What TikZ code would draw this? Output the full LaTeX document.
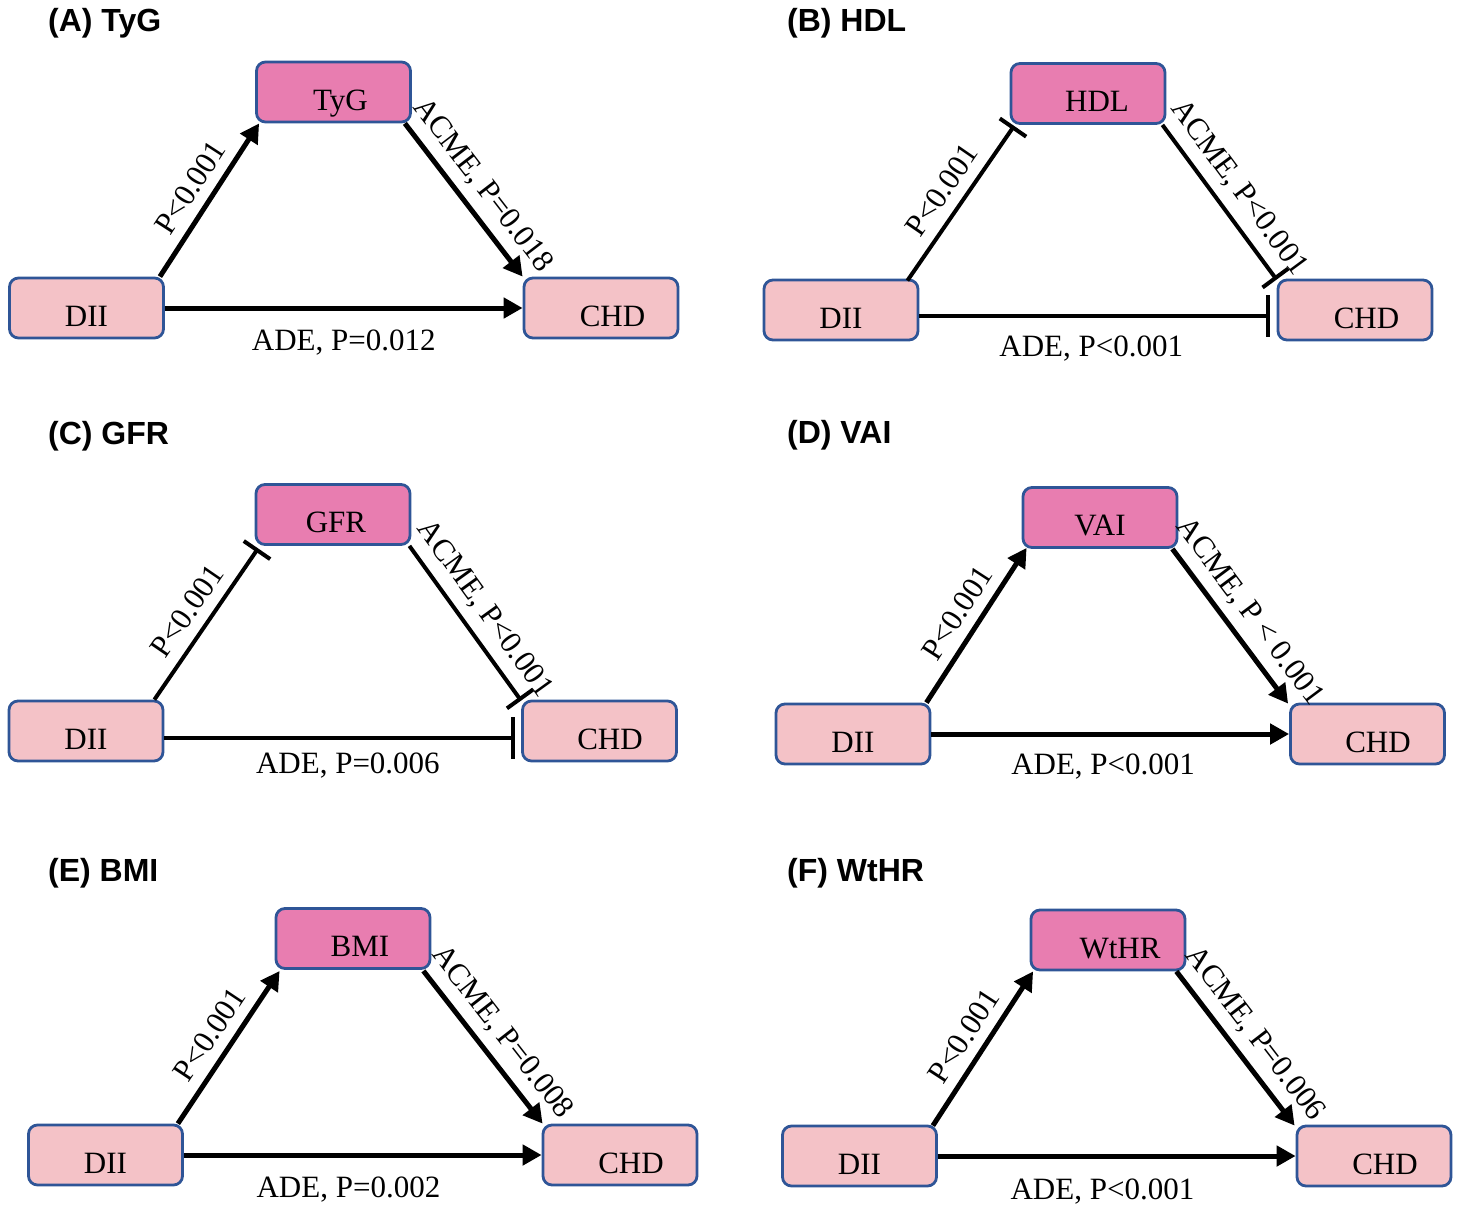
\documentclass[tikz,border=0pt]{standalone}
\usepackage{fontspec}
\setmainfont{Liberation Serif}
\newfontfamily\titlefam{Liberation Sans}
\usetikzlibrary{arrows.meta,calc}
\definecolor{medpink}{HTML}{E87DB0}
\definecolor{lightpink}{HTML}{F4C2C7}
\definecolor{boxblue}{HTML}{2F5597}
\newcommand\labfont{\fontsize{31pt}{36pt}\selectfont}
\newcommand\ttlfont{\titlefam\bfseries\fontsize{32pt}{36pt}\selectfont}
\begin{document}
\begin{tikzpicture}[x=1pt,y=-1pt,
  medbox/.style={draw=boxblue, line width=2.8pt, fill=medpink, rounded corners=9pt,
    minimum width=154pt, minimum height=60pt, inner sep=0pt,
    text height=36pt, text depth=0pt, font=\labfont},
  endbox/.style={medbox, fill=lightpink},
  ttl/.style={font=\ttlfont, anchor=base west, inner sep=0pt},
  act/.style={line width=5pt, -{Triangle[length=19pt,width=20pt]}},
  inhd/.style={line width=4pt, -{Bar[width=32pt]}},
  inhh/.style={line width=4pt, -{Bar[width=42pt]}},
  slab/.style={font=\labfont, inner sep=0pt, text depth=0pt, sloped, above, outer ysep=13pt},
  alab/.style={slab, outer ysep=16pt},
  hlab/.style={font=\labfont, inner sep=0pt, anchor=base}
]
\useasboundingbox (0,0) rectangle (1459,1211);
\fill[white] (0,0) rectangle (1459,1211);

% ---------------- (A) TyG
\node[ttl] (tA) at (48,31) {(A) TyG};
\node[medbox] (mA) at (333.5,92) {\hspace{14pt}TyG};
\node[endbox] (dA) at (86.5,308) {DII};
\node[endbox] (cA) at (601,308) {\hspace{23pt}CHD};
\draw[act] ($(dA.north east)+(-5,0)$) -- node[slab]{P<0.001} ($(mA.south west)+(4,0)$);
\draw[act] ($(mA.south east)+(-7,0)$) -- node[alab]{ACME, P=0.018} (cA.north west);
\draw[act] (dA.east) -- node[hlab, pos=0.5, yshift=-42pt]{ADE, P=0.012} (cA.west);

% ---------------- (B) HDL
\node[ttl] (tB) at (787,31) {(B) HDL};
\node[medbox] (mB) at (1088,93.5) {\hspace{18pt}HDL};
\node[endbox] (dB) at (841,310) {DII};
\node[endbox] (cB) at (1355,310) {\hspace{23pt}CHD};
\draw[inhd] ($(dB.north east)+(-12,2)$) -- node[slab]{P<0.001} ($(mB.south west)+(4.5,1)$);
\draw[inhd] ($(mB.south east)+(-4,0)$) -- node[alab]{ACME, P<0.001} ($(cB.north west)+(0,1)$);
\draw[inhh] ($(dB.east)+(0,6)$) -- node[hlab, pos=0.49, yshift=-40pt]{ADE, P<0.001} ($(cB.west)+(-6.5,6)$);

% ---------------- (C) GFR
\node[ttl] (tC) at (48,444) {(C) GFR};
\node[medbox] (mC) at (333,514.5) {\hspace{6pt}GFR};
\node[endbox] (dC) at (86,731) {DII};
\node[endbox] (cC) at (599.5,731) {\hspace{21pt}CHD};
\draw[inhd] ($(dC.north east)+(-10,0)$) -- node[slab]{P<0.001} ($(mC.south west)+(3.5,2.5)$);
\draw[inhd] ($(mC.south east)+(-2,0)$) -- node[alab]{ACME, P<0.001} ($(cC.north west)+(0,1)$);
\draw[inhh] ($(dC.east)+(0,7)$) -- node[hlab, pos=0.524, yshift=-35pt]{ADE, P=0.006} ($(cC.west)+(-6.5,7)$);

% ---------------- (D) VAI
\node[ttl] (tD) at (787,443) {(D) VAI};
\node[medbox] (mD) at (1100,517.5) {VAI};
\node[endbox] (dD) at (853,734) {DII};
\node[endbox] (cD) at (1367.5,734) {\hspace{21pt}CHD};
\draw[act] ($(dD.north east)+(-5,0)$) -- node[slab]{P<0.001} ($(mD.south west)+(5,-1)$);
\draw[act] ($(mD.south east)+(-6,0)$) -- node[alab]{ACME, P < 0.001} ($(cD.north west)+(-1,1)$);
\draw[act] (dD.east) -- node[hlab, pos=0.48, yshift=-40pt]{ADE, P<0.001} (cD.west);

% ---------------- (E) BMI
\node[ttl] (tE) at (48,881) {(E) BMI};
\node[medbox] (mE) at (353,938.5) {\hspace{14pt}BMI};
\node[endbox] (dE) at (105.5,1155) {DII};
\node[endbox] (cE) at (620,1155) {\hspace{22pt}CHD};
\draw[act] ($(dE.north east)+(-6,0)$) -- node[slab]{P<0.001} ($(mE.south west)+(5,1)$);
\draw[act] ($(mE.south east)+(-8,1)$) -- node[alab]{ACME, P=0.008} ($(cE.north west)+(1,0)$);
\draw[act] (dE.east) -- node[hlab, pos=0.46, yshift=-42pt]{ADE, P=0.002} (cE.west);

% ---------------- (F) WtHR
\node[ttl] (tF) at (787,881) {(F) WtHR};
\node[medbox] (mF) at (1108,940) {\hspace{24pt}WtHR};
\node[endbox] (dF) at (859.5,1156) {DII};
\node[endbox] (cF) at (1374,1156) {\hspace{22pt}CHD};
\draw[act] ($(dF.north east)+(-5,1)$) -- node[slab]{P<0.001} ($(mF.south west)+(3.5,0)$);
\draw[act] ($(mF.south east)+(-10,0)$) -- node[alab]{ACME, P=0.006} ($(cF.north west)+(-1,1)$);
\draw[act] (dF.east) -- node[hlab, pos=0.46, yshift=-43pt]{ADE, P<0.001} (cF.west);
\end{tikzpicture}
\end{document}
